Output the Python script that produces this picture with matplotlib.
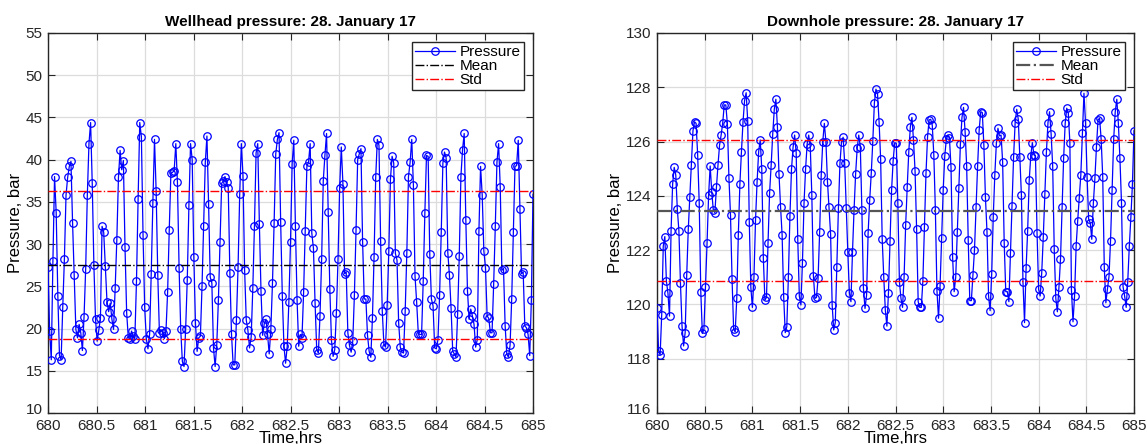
import numpy as np
import matplotlib
matplotlib.use("Agg")
import matplotlib.pyplot as plt
import matplotlib.transforms as mtransforms

plt.rcParams['font.family'] = ['Liberation Sans', 'DejaVu Sans']

# Wellhead pressure (bar), sampled roughly once per minute from 680 to 685 h
wellhead = [
    27.3, 19.7, 16.3, 28.0, 38.0, 33.7, 23.9, 16.8, 16.3, 22.5, 28.2, 35.8, 37.9, 39.2, 39.8, 32.5,
    26.3, 19.9, 18.9, 20.5, 19.5, 17.4, 21.4, 27.1, 35.8, 41.9, 44.4, 37.2, 27.5, 21.1, 18.5, 19.8,
    21.2, 32.1, 31.4, 27.4, 23.2, 22.0, 23.0, 21.1, 19.9, 24.8, 30.5, 37.9, 41.1, 38.8, 39.9, 29.6,
    21.9, 18.9, 18.8, 19.7, 19.1, 18.8, 25.6, 35.4, 44.4, 42.7, 31.1, 22.5, 18.8, 17.6, 19.3, 26.5,
    34.9, 42.4, 36.3, 26.3, 19.5, 19.8, 19.5, 18.8, 19.7, 24.3, 31.7, 38.4,
    38.5, 38.7, 41.9, 37.3, 27.2, 19.9, 16.1, 15.5, 19.9, 25.8, 34.6, 41.9, 40.0, 28.5, 20.6, 17.3,
    18.9, 19.1, 25.0, 32.2, 39.7, 42.8, 34.8, 26.1, 25.4, 17.7, 15.5, 18.1, 23.4, 30.3, 37.2, 37.5,
    38.0, 37.3, 36.7, 26.6, 19.3, 15.7, 15.7, 21.0, 27.3, 35.9, 41.9, 38.1, 26.9, 21.0, 19.8, 17.7,
    19.0, 24.8, 32.2, 40.8, 41.9, 32.4, 24.4, 19.2, 20.6, 21.1, 19.3, 17.0, 19.9, 25.4, 32.5, 40.7,
    42.4, 43.2, 32.6, 23.9, 17.9, 15.9, 17.9, 23.1, 30.2, 39.5, 42.3,
    32.1, 23.4, 17.9, 19.3, 18.9, 24.3, 31.6, 39.2, 39.7, 41.9, 31.3, 29.5, 23.0, 17.5, 17.1, 21.5,
    28.2, 37.5, 40.5, 43.1, 33.8, 24.7, 18.6, 16.7, 17.5, 21.9, 28.2, 36.7, 41.5, 37.1, 26.5, 26.7,
    19.5, 18.0, 17.2, 18.5, 24.0, 31.7, 40.0, 40.7, 41.3, 30.3, 23.5, 23.5, 19.2, 17.3, 16.6, 21.2,
    28.5, 37.9, 42.4, 41.7, 30.4, 22.1, 18.1, 17.8, 22.8, 29.2, 37.7, 40.4, 39.6, 28.9, 28.1, 20.7,
    17.8, 17.2, 17.1, 22.1, 29.0, 38.0, 39.7, 42.4,
    37.0, 26.2, 23.1, 19.4, 19.3, 19.3, 25.6, 33.7, 40.5, 40.4, 28.8, 23.5, 22.7, 17.7, 17.6, 18.7,
    24.0, 31.4, 39.6, 40.9, 40.2, 29.0, 26.3, 22.4, 17.3, 17.0, 16.6, 21.7, 28.6, 38.0, 41.2, 43.1,
    32.9, 24.5, 21.1, 22.3, 21.5, 20.5, 17.8, 18.7, 31.6, 39.2, 35.8, 29.2, 27.2, 21.5, 21.2, 19.5,
    19.5, 25.3, 32.2, 39.7, 41.9, 36.8, 26.9, 27.1, 20.3, 17.0, 16.6, 18.0, 23.5, 31.4, 39.2, 39.3,
    42.3, 34.2, 26.5, 26.7, 20.3, 20.1, 19.3, 16.8, 23.4, 35.9,
]

# Downhole pressure (bar), same time span
downhole = [
    119.88, 118.30, 118.14, 119.61, 122.15, 122.50, 120.87, 120.41, 119.57, 122.72, 124.44, 125.05,
    124.77, 123.50, 122.72, 120.78, 119.21, 118.47, 118.96, 121.08, 122.77, 123.97, 125.14, 126.40,
    126.73, 126.67, 125.51, 123.72, 120.47, 118.93, 119.08, 120.65, 122.25, 124.03, 125.10, 124.15,
    123.48, 123.38, 124.31, 125.14, 125.87, 126.24, 126.67, 127.35, 127.35, 126.65, 124.65, 123.29,
    120.92, 119.08, 118.99, 120.22, 122.56, 124.44, 125.63, 126.73, 127.51, 127.80, 126.77, 123.05,
    120.63, 119.89, 121.02, 123.11, 124.52, 125.63, 126.06, 124.98, 121.70, 120.16, 120.26, 122.28,
    124.12, 125.14, 126.28, 127.19, 127.56, 126.55, 124.81, 123.60,
    122.56, 120.28, 118.96, 119.18, 121.00, 123.26, 124.98, 125.79, 126.24, 125.59, 122.40, 120.31,
    119.98, 121.54, 123.72, 124.98, 125.91, 126.24, 125.81, 124.03, 121.05, 120.22, 120.26, 120.96,
    122.68, 124.77, 126.00, 126.67, 126.00, 124.52, 123.58, 122.59, 119.98, 119.06, 119.33, 121.39,
    123.54, 125.22, 126.00, 126.16, 125.22, 123.54, 121.94, 120.43, 120.10, 121.94, 123.48, 124.81,
    125.75, 126.24, 125.81, 123.48, 120.59, 119.85, 120.34, 122.64, 123.85, 124.83, 126.03, 127.43,
    127.93, 127.75, 126.73, 125.35, 122.40, 121.00, 119.79, 119.20, 120.43, 122.35, 124.22, 125.30,
    125.96, 125.94, 123.72, 120.84, 120.22,
    119.89, 121.02, 122.93, 124.34, 125.63, 126.55, 126.89, 126.06, 124.93, 122.77, 120.10, 119.89,
    119.89, 120.87, 122.84, 124.83, 126.18, 126.80, 126.82, 126.61, 125.51, 123.48, 120.51, 119.49,
    120.68, 122.43, 124.22, 125.47, 126.08, 126.24, 126.12, 125.05, 121.76, 120.47, 121.00, 122.68,
    124.28, 125.91, 126.89, 127.26, 126.37, 125.10, 122.37, 120.14, 120.14, 121.08, 122.00, 123.58,
    125.10, 126.43, 127.10, 127.07, 125.87, 123.95, 122.68, 120.31, 119.77, 121.12, 123.23, 124.77,
    125.94, 126.49, 126.21, 126.24, 125.26, 122.28, 120.47, 120.47, 120.10, 121.91, 123.63, 125.42,
    126.70, 127.19, 126.82, 125.42, 124.03, 120.84, 119.33,
    121.33, 122.72, 124.58, 125.47, 125.96, 125.51, 125.47, 122.64, 120.56, 120.31, 121.17, 122.50,
    124.07, 125.63, 126.70, 127.10, 126.28, 125.10, 122.03, 120.22, 119.73, 120.63, 121.66, 123.58,
    125.38, 126.67, 127.23, 127.04, 125.96, 120.53, 119.36, 120.31, 122.15, 123.09, 123.91, 124.77,
    126.33, 127.78, 126.70, 124.71, 123.14, 123.01, 122.40, 123.72, 124.65, 125.81, 126.80, 126.86,
    126.08, 124.71, 121.37, 120.06, 120.56, 121.02, 122.35, 124.22, 126.08, 127.10, 127.56, 126.67,
    125.38, 123.75, 120.65, 120.31, 119.89, 120.84, 122.15, 123.21, 124.44, 126.40,
]

t_start, t_end = 680.0, 685.0
wellhead_mean, wellhead_std = 27.5, 8.75
downhole_mean, downhole_std = 123.45, 2.6

x_ticks = [680, 680.5, 681, 681.5, 682, 682.5, 683, 683.5, 684, 684.5, 685]
x_ticklabels = ['680', '680.5', '681', '681.5', '682', '682.5', '683', '683.5', '684', '684.5', '685']
wellhead_yticks = [10, 15, 20, 25, 30, 35, 40, 45, 50, 55]
downhole_yticks = [116, 118, 120, 122, 124, 126, 128, 130]

fig = plt.figure(figsize=(11.47, 4.44), dpi=100)
ax1 = fig.add_axes([48 / 1147, 31 / 444, 485 / 1147, 380 / 444])
ax2 = fig.add_axes([657 / 1147, 31 / 444, 477 / 1147, 380 / 444])


def draw(ax, values, mean, std, yticks, title, mean_color, mean_lw):
    t = np.linspace(t_start, t_end, len(values))
    ax.plot(t, values, '-o', color='#0000ff', lw=0.9, ms=5.4, mfc='none',
            mec='#0000ff', mew=0.9, label='Pressure', zorder=3)
    ax.plot([t_start, t_end], [mean, mean], '-.', color=mean_color, lw=mean_lw,
            label='Mean', zorder=4)
    ax.plot([t_start, t_end], [mean + std, mean + std], '-.', color='#ff0000', lw=1.0,
            label='Std', zorder=4)
    ax.plot([t_start, t_end], [mean - std, mean - std], '-.', color='#ff0000', lw=1.0,
            zorder=4)
    ax.set_xlim(t_start, t_end)
    ax.set_ylim(yticks[0], yticks[-1])
    ax.set_xticks(x_ticks)
    ax.set_xticklabels(x_ticklabels)
    ax.set_yticks(yticks)
    ax.grid(True, color='#dcdcdc', lw=0.9)
    ax.set_axisbelow(True)
    ax.tick_params(direction='in', top=True, right=True, length=5, width=0.8,
                   labelsize=11, colors='#262626')
    ax.tick_params(axis='x', pad=4)
    ax.tick_params(axis='y', pad=4)
    for s in ax.spines.values():
        s.set_linewidth(1.0)
        s.set_color('#262626')
    ax.set_title(title, fontsize=11, fontweight='bold', pad=5)
    ax.set_xlabel('Time,hrs', fontsize=12, labelpad=-1)
    ax.set_ylabel('Pressure, bar', fontsize=12, labelpad=2)
    leg = ax.legend(loc='upper right', fontsize=11, frameon=True, fancybox=False,
                    edgecolor='#262626', framealpha=1, borderpad=0.2, labelspacing=0.0,
                    handlelength=2.6, handletextpad=0.3, borderaxespad=0.6)
    leg.get_frame().set_linewidth(1.0)
    # lift the lowest y tick label slightly so it sits just above the x labels
    fig.canvas.draw()
    lowest = ax.get_yticklabels()[0]
    lowest.set_transform(lowest.get_transform() +
                         mtransforms.ScaledTranslation(0, 3 / 72, fig.dpi_scale_trans))


draw(ax1, wellhead, wellhead_mean, wellhead_std, wellhead_yticks,
     'Wellhead pressure: 28. January 17', 'black', 1.0)
draw(ax2, downhole, downhole_mean, downhole_std, downhole_yticks,
     'Downhole pressure: 28. January 17', '#555555', 1.6)

fig.savefig('out.png', dpi=100)
